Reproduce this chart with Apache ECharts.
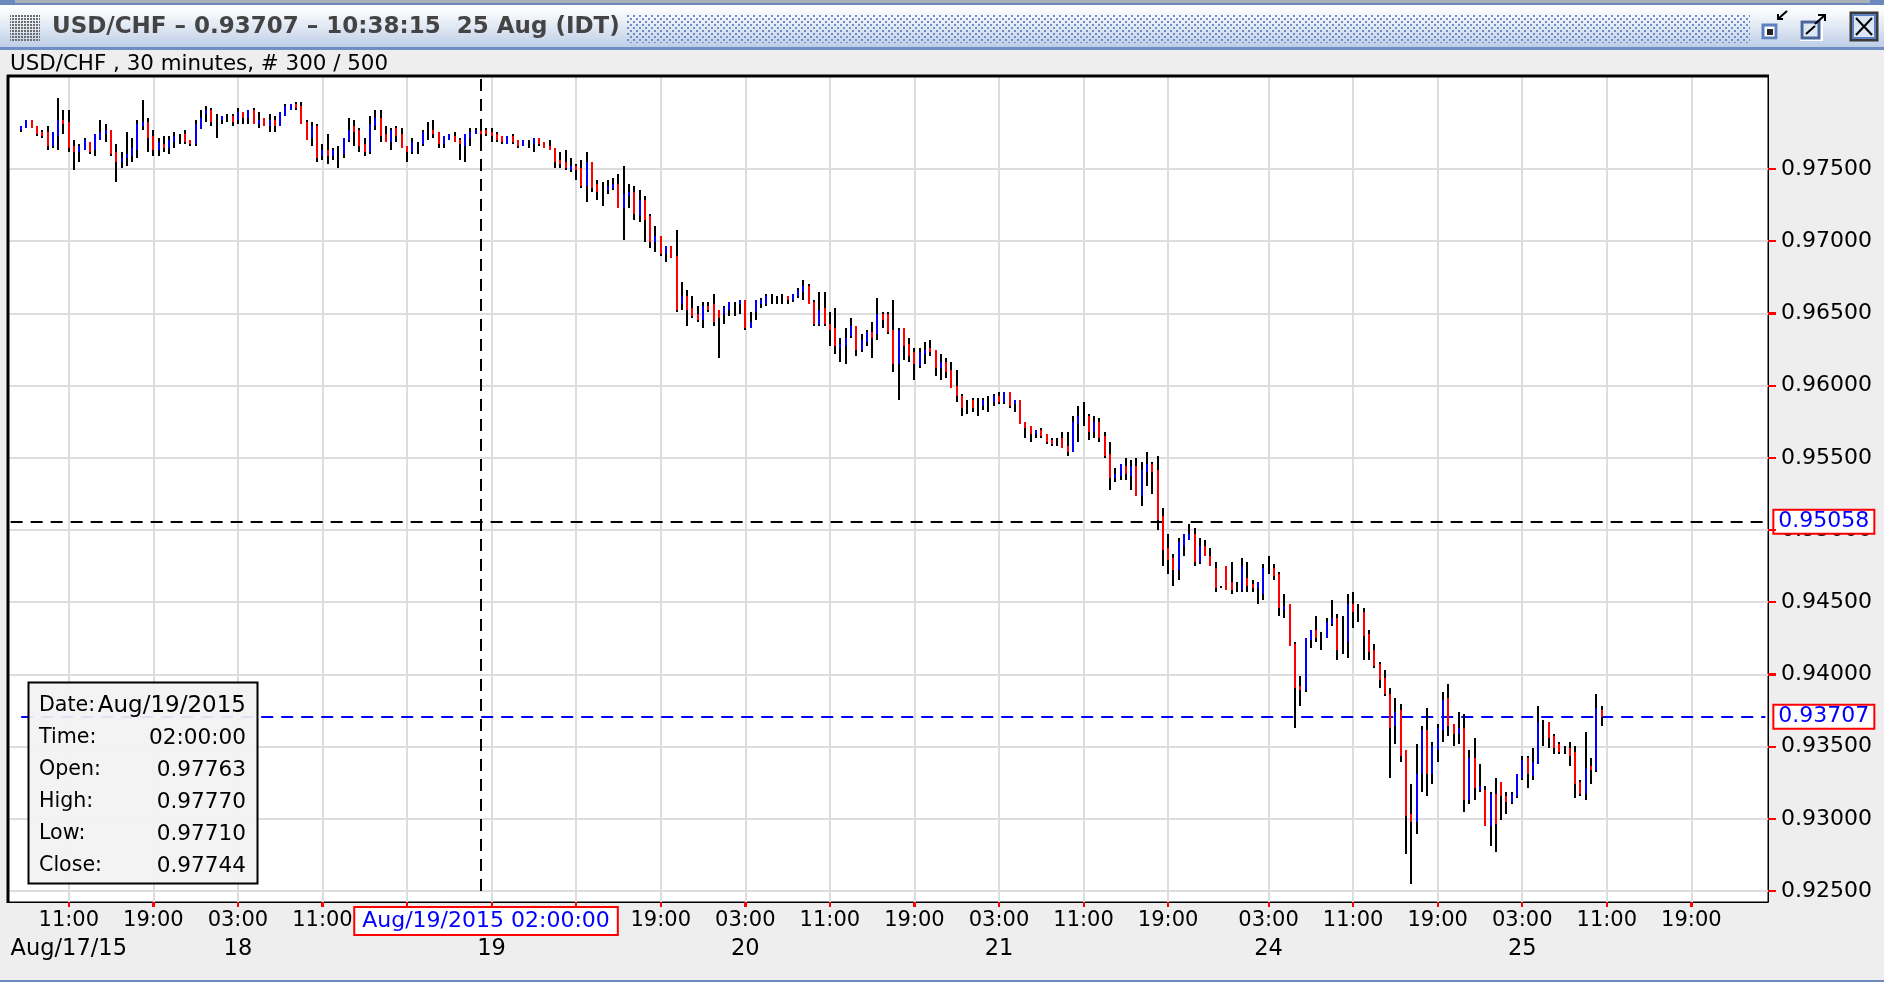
<!DOCTYPE html>
<html><head><meta charset="utf-8">
<style>html,body{margin:0;padding:0;background:#eee;overflow:hidden}#c{width:1884px;height:982px}</style>
<script src="https://cdn.jsdelivr.net/npm/echarts@6/dist/echarts.min.js"></script>
</head><body><div id="c"></div>
<script>
const opens=[
.97770,.97784,.97839,.97798,.97756,.97756,.97659,.97728,.97839,.97825,
.97659,.97618,.97632,.97687,.97632,.97701,.97742,.97770,.97618,.97548,
.97576,.97590,.97632,.97798,.97825,.97728,.97632,.97673,.97645,.97687,
.97701,.97742,.97701,.97673,.97777,.97881,.97909,.97790,.97839,.97853,
.97867,.97839,.97895,.97853,.97909,.97812,.97853,.97798,.97839,.97798,
.97867,.97909,.97950,.97936,.97825,.97715,.97798,.97590,.97632,.97590,
.97590,.97604,.97701,.97798,.97770,.97673,.97618,.97798,.97853,.97742,
.97687,.97784,.97742,.97659,.97618,.97645,.97673,.97770,.97770,.97756,
.97673,.97701,.97728,.97701,.97659,.97715,.97742,.97763,.97770,.97756,
.97742,.97728,.97673,.97728,.97701,.97659,.97673,.97673,.97715,.97687,
.97659,.97645,.97562,.97548,.97493,.97521,.97507,.97382,.97548,.97396,
.97327,.97355,.97368,.97396,.97230,.97313,.97341,.97175,.97285,.97175,
.96995,.97036,.96911,.96967,.96898,.96565,.96621,.96538,.96496,.96454,
.96551,.96565,.96524,.96496,.96524,.96524,.96565,.96593,.96399,.96510,
.96565,.96565,.96593,.96593,.96593,.96621,.96593,.96621,.96648,.96690,
.96579,.96427,.96538,.96427,.96399,.96261,.96274,.96344,.96413,.96247,
.96302,.96371,.96358,.96496,.96496,.96385,.96150,.96399,.96288,.96233,
.96136,.96219,.96261,.96247,.96122,.96164,.96108,.95997,.95928,.95852,
.95901,.95852,.95859,.95873,.95887,.95928,.95887,.95956,.95873,.95901,
.95748,.95721,.95665,.95693,.95665,.95624,.95610,.95637,.95582,.95541,
.95734,.95804,.95790,.95679,.95748,.95651,.95527,.95360,.95374,.95444,
.95374,.95444,.95236,.95402,.95457,.95416,.95097,.94876,.94807,.94723,
.94890,.94931,.94973,.94779,.94890,.94820,.94737,.94606,.94751,.94640,
.94606,.94585,.94668,.94627,.94599,.94557,.94758,.94737,.94696,.94447,
.94488,.94211,.93920,.93893,.94239,.94308,.94232,.94253,.94350,.94391,
.94273,.94225,.94488,.94426,.94433,.94280,.94170,.94073,.93976,.93865,
.93643,.93754,.93477,.93034,.92979,.93311,.93616,.93311,.93477,.93616,
.93837,.93657,.93588,.93630,.93131,.93422,.93200,.93200,.92951,.93173,
.93256,.93159,.93117,.93159,.93283,.93422,.93297,.93380,.93595,.93671,
.93574,.93519,.93477,.93491,.93463,.93256,.93173,.93366,.93339,.93754];
const highs=[
.97798,.97839,.97839,.97798,.97770,.97798,.97756,.97992,.97909,.97909,
.97701,.97673,.97715,.97687,.97742,.97839,.97812,.97770,.97673,.97618,
.97756,.97715,.97839,.97978,.97853,.97770,.97715,.97728,.97728,.97756,
.97742,.97770,.97701,.97839,.97909,.97936,.97922,.97881,.97867,.97881,
.97881,.97922,.97895,.97909,.97922,.97895,.97853,.97881,.97867,.97895,
.97950,.97950,.97964,.97964,.97839,.97825,.97812,.97673,.97742,.97645,
.97659,.97715,.97853,.97839,.97784,.97715,.97867,.97909,.97909,.97798,
.97784,.97798,.97784,.97659,.97715,.97687,.97770,.97825,.97839,.97756,
.97728,.97742,.97756,.97715,.97742,.97784,.97784,.97770,.97784,.97784,
.97756,.97728,.97728,.97742,.97701,.97701,.97701,.97715,.97715,.97687,
.97701,.97645,.97618,.97632,.97576,.97535,.97562,.97618,.97548,.97424,
.97410,.97424,.97438,.97465,.97521,.97396,.97382,.97355,.97313,.97188,
.97105,.97036,.96967,.96967,.97078,.96718,.96662,.96621,.96551,.96579,
.96579,.96634,.96524,.96551,.96579,.96579,.96593,.96593,.96510,.96593,
.96607,.96634,.96634,.96621,.96634,.96621,.96634,.96676,.96731,.96704,
.96593,.96648,.96648,.96510,.96538,.96330,.96399,.96468,.96413,.96358,
.96385,.96441,.96607,.96510,.96510,.96593,.96399,.96399,.96330,.96261,
.96261,.96302,.96316,.96247,.96219,.96191,.96164,.96108,.95942,.95901,
.95914,.95914,.95914,.95928,.95942,.95956,.95956,.95956,.95901,.95901,
.95748,.95721,.95693,.95707,.95665,.95637,.95637,.95679,.95679,.95790,
.95859,.95887,.95804,.95790,.95776,.95679,.95610,.95430,.95457,.95499,
.95485,.95499,.95471,.95541,.95471,.95513,.95153,.94973,.94834,.94945,
.94973,.95042,.95014,.94945,.94931,.94876,.94779,.94613,.94751,.94779,
.94640,.94807,.94779,.94654,.94640,.94765,.94820,.94765,.94710,.94557,
.94488,.94225,.93990,.94253,.94308,.94405,.94294,.94391,.94516,.94419,
.94405,.94557,.94571,.94488,.94460,.94308,.94211,.94086,.94031,.93906,
.93837,.93796,.93477,.93242,.93519,.93643,.93768,.93533,.93657,.93879,
.93934,.93657,.93740,.93726,.93477,.93560,.93380,.93228,.93186,.93283,
.93256,.93186,.93186,.93311,.93436,.93436,.93491,.93782,.93685,.93671,
.93588,.93533,.93505,.93533,.93505,.93269,.93602,.93422,.93865,.93782];
const lows=[
.97756,.97784,.97784,.97728,.97715,.97632,.97645,.97632,.97742,.97618,
.97493,.97548,.97632,.97604,.97590,.97701,.97687,.97590,.97410,.97507,
.97521,.97548,.97576,.97770,.97618,.97590,.97590,.97618,.97604,.97645,
.97673,.97673,.97659,.97659,.97777,.97825,.97798,.97715,.97812,.97825,
.97798,.97812,.97812,.97812,.97812,.97784,.97798,.97756,.97756,.97798,
.97867,.97909,.97909,.97812,.97701,.97659,.97548,.97562,.97535,.97562,
.97507,.97576,.97687,.97659,.97618,.97590,.97604,.97770,.97687,.97687,
.97632,.97687,.97645,.97548,.97604,.97604,.97659,.97701,.97715,.97645,
.97645,.97701,.97687,.97562,.97548,.97659,.97742,.97710,.97728,.97687,
.97687,.97673,.97673,.97673,.97645,.97659,.97645,.97618,.97659,.97645,
.97632,.97507,.97507,.97493,.97479,.97424,.97368,.97272,.97341,.97285,
.97244,.97327,.97355,.97230,.97008,.97230,.97147,.97133,.96995,.96953,
.96925,.96898,.96856,.96884,.96510,.96524,.96413,.96468,.96441,.96399,
.96510,.96413,.96191,.96427,.96482,.96482,.96496,.96385,.96399,.96454,
.96538,.96551,.96565,.96565,.96565,.96565,.96579,.96607,.96593,.96565,
.96413,.96413,.96413,.96274,.96219,.96164,.96150,.96330,.96205,.96233,
.96274,.96191,.96316,.96399,.96358,.96094,.95901,.96178,.96164,.96039,
.96122,.96150,.96205,.96067,.96039,.96053,.95984,.95887,.95790,.95804,
.95817,.95790,.95831,.95817,.95859,.95873,.95873,.95845,.95817,.95734,
.95637,.95610,.95637,.95637,.95596,.95582,.95582,.95568,.95513,.95541,
.95610,.95721,.95624,.95637,.95610,.95499,.95277,.95333,.95347,.95347,
.95277,.95236,.95167,.95305,.95250,.95000,.94751,.94696,.94613,.94654,
.94820,.94931,.94751,.94765,.94820,.94751,.94571,.94599,.94585,.94557,
.94571,.94571,.94571,.94571,.94488,.94516,.94696,.94654,.94405,.94391,
.94197,.93630,.93782,.93879,.94183,.94225,.94170,.94253,.94336,.94100,
.94142,.94114,.94322,.94363,.94100,.94100,.94045,.93906,.93851,.93283,
.93519,.93394,.92757,.92549,.92896,.93186,.93159,.93242,.93394,.93533,
.93574,.93505,.93519,.93048,.93103,.93131,.93186,.92951,.92812,.92771,
.92992,.93034,.93103,.93145,.93269,.93214,.93269,.93380,.93505,.93491,
.93449,.93449,.93449,.93366,.93145,.93159,.93131,.93242,.93325,.93643];
const closes=[
.97798,.97839,.97784,.97742,.97728,.97659,.97756,.97839,.97812,.97645,
.97618,.97659,.97701,.97618,.97742,.97756,.97770,.97604,.97548,.97576,
.97604,.97645,.97812,.97825,.97715,.97632,.97687,.97645,.97701,.97728,
.97701,.97687,.97673,.97812,.97853,.97909,.97825,.97790,.97867,.97853,
.97825,.97895,.97853,.97909,.97812,.97839,.97798,.97839,.97798,.97895,
.97936,.97950,.97922,.97812,.97701,.97798,.97576,.97632,.97590,.97632,
.97590,.97715,.97770,.97756,.97659,.97618,.97812,.97853,.97728,.97687,
.97770,.97728,.97645,.97618,.97687,.97645,.97756,.97770,.97742,.97673,
.97728,.97742,.97687,.97673,.97742,.97756,.97770,.97744,.97742,.97728,
.97701,.97687,.97728,.97687,.97659,.97701,.97673,.97715,.97673,.97645,
.97632,.97548,.97535,.97507,.97521,.97493,.97382,.97548,.97368,.97341,
.97327,.97382,.97396,.97230,.97327,.97341,.97188,.97285,.97147,.96995,
.97036,.96911,.96967,.96884,.96524,.96621,.96524,.96482,.96454,.96551,
.96524,.96441,.96468,.96538,.96579,.96524,.96593,.96399,.96441,.96593,
.96593,.96621,.96593,.96593,.96593,.96593,.96634,.96662,.96690,.96565,
.96427,.96524,.96427,.96385,.96274,.96288,.96330,.96413,.96247,.96316,
.96371,.96330,.96496,.96454,.96371,.96150,.96385,.96274,.96205,.96150,
.96233,.96247,.96233,.96122,.96164,.96094,.95984,.95928,.95845,.95852,
.95845,.95852,.95901,.95873,.95928,.95887,.95956,.95859,.95901,.95734,
.95707,.95665,.95693,.95651,.95610,.95596,.95610,.95568,.95541,.95748,
.95790,.95804,.95679,.95748,.95637,.95513,.95360,.95388,.95457,.95388,
.95444,.95236,.95416,.95457,.95402,.95070,.94862,.94793,.94723,.94917,
.94973,.94973,.94779,.94890,.94820,.94751,.94599,.94606,.94585,.94585,
.94606,.94751,.94613,.94599,.94640,.94737,.94758,.94682,.94460,.94474,
.94197,.93906,.93893,.94253,.94308,.94253,.94232,.94363,.94391,.94170,
.94273,.94488,.94433,.94426,.94266,.94156,.94059,.93962,.93865,.93630,
.93740,.93436,.93020,.92979,.93311,.93616,.93311,.93505,.93630,.93823,
.93643,.93588,.93630,.93131,.93422,.93214,.93228,.92951,.93173,.92965,
.93159,.93117,.93173,.93311,.93408,.93311,.93394,.93671,.93595,.93560,
.93491,.93463,.93477,.93436,.93242,.93173,.93353,.93339,.93768,.93707];

const yTicks=[0.925,0.93,0.935,0.94,0.945,0.95,0.955,0.96,0.965,0.97,0.975];
const yMin=0.92424, yMax=0.98144;
const leadSlots=2, totalSlots=333;           // empty bar slots before the first bar / whole axis
const tickBars=[9,25,41,57,73,89,105,121,137,153,169,185,201,217,236,252,268,284,300,316];
const tickHours=['11:00','19:00','03:00','11:00','19:00','03:00','11:00','19:00','03:00','11:00','19:00','03:00','11:00','19:00','03:00','11:00','19:00','03:00','11:00','19:00'];
const dateBars=[9,41,89,137,185,236,284];
const dateLabels=['Aug/17/15','18','19','20','21','24','25'];

const windowTitle='USD/CHF \u2013 0.93707 \u2013 10:38:15  25 Aug (IDT)';
const subTitle='USD/CHF , 30 minutes, # 300 / 500';
const crossBar=87, crossPrice=0.95058, crossTop=0.98123, crossBottom=0.925;
const crossTimeLabel='Aug/19/2015 02:00:00';
const lastPrice=0.93707;
const infoRows=[['Date:','Aug/19/2015'],['Time:','02:00:00'],['Open:','0.97763'],['High:','0.97770'],['Low:','0.97710'],['Close:','0.97744']];

const FONT='"DejaVu Sans"';
const slots=[];for(let i=0;i<totalSlots;i++)slots.push(String(i-leadSlots));
const hourMap={},dateMap={};
tickBars.forEach((b,i)=>hourMap[String(b)]=tickHours[i]);
dateBars.forEach((b,i)=>dateMap[String(b)]=dateLabels[i]);
const isTick=(i,v)=>hourMap[v]!==undefined;
const isDate=(i,v)=>dateMap[v]!==undefined;
const barData=opens.map((o,i)=>[i+leadSlots,o,highs[i],lows[i],closes[i]]);

function makePattern(size,color,dots){const c=document.createElement('canvas');c.width=c.height=size;const x=c.getContext('2d');x.fillStyle=color;dots.forEach(d=>x.fillRect(d[0],d[1],d[2],d[2]));return c;}
const rect=(x,y,w,h,fill,stroke,lw,z)=>({type:'rect',silent:true,z:z||1,shape:{x,y,width:w,height:h},style:{fill:fill||'transparent',stroke:stroke||null,lineWidth:lw||0}});
const seg=(x1,y1,x2,y2,stroke,lw,z)=>({type:'line',silent:true,z:z||2,shape:{x1,y1,x2,y2},style:{stroke,lineWidth:lw||1}});
const poly=(pts,stroke,lw)=>({type:'polyline',silent:true,z:2,shape:{points:pts},style:{stroke,lineWidth:lw,fill:null}});
const txt=(x,y,t,size,color,align,weight,z)=>({type:'text',silent:true,z:z||2,style:{x,y,text:t,fill:color,font:(weight||'normal')+' '+size+'px '+FONT,textAlign:align||'left',textVerticalAlign:'middle'}});

const g=[];
// window chrome
g.push(rect(0,4,1884,44,{type:'linear',x:0,y:0,x2:0,y2:1,colorStops:[{offset:0,color:'#ffffff'},{offset:.25,color:'#f4f7fb'},{offset:1,color:'#bccde6'}]}));
g.push(rect(0,0,1884,5,'#6a8abf'));
g.push(rect(15,0,1855,3,'#a9b1ba'));
g.push(rect(0,47,1884,3,'#6f8fc4'));
g.push(rect(0,980,1884,2,'#6a8abf'));
g.push(rect(10,14,30,27,{image:makePattern(3,'#6d6d6d',[[0,0,2]]),repeat:'repeat'}));
g.push(rect(627,14,1123,29,{image:makePattern(6,'#6e8dc8',[[0,0,2],[3,3,2]]),repeat:'repeat'}));
g.push(txt(52,27,windowTitle,23,'#444444','left','bold'));
g.push(txt(10,64,subTitle,21.4,'#000000'));
// window buttons
g.push(rect(1762,24,16,16,'#ffffff'));g.push(rect(1763,25,13,13,'#ffffff','#5c7fbf',3));g.push(rect(1767,29,6,6,'#222222'));
g.push(seg(1787,11,1778,19,'#000',2));g.push(poly([[1778,14],[1778,19],[1783,19]],'#000',2));
g.push(rect(1800,20,23,21,'#ffffff'));g.push(rect(1802,22,17,16,'#dfe7f4','#4a659b',3));g.push(seg(1806,34,1815,26,'#000',2));
g.push(seg(1815,24,1825,15,'#000',2));g.push(poly([[1818,15],[1825,15],[1825,21]],'#000',2));
g.push(rect(1851,13,26,27,'#dbe5f3','#3a3a3a',3));g.push(rect(1853,15,22,23,'#dbe5f3','#5c7fbf',2));
g.push(seg(1856,18,1872,35,'#000',2));g.push(seg(1872,18,1856,35,'#000',2));
// thick left / top frame of the plot
g.push(seg(8,75,8,903,'#000',3,30));g.push(seg(7,76,1769,76,'#000',3,30));
// data-window box
g.push(rect(28.5,682.5,229,201,'rgba(241,242,241,0.93)','#000',2,60));
infoRows.forEach((r,i)=>{
  const y=706+i*32;
  g.push(txt(39,y,r[0],20.6,'#000','left','normal',61));
  g.push(txt(246,y,r[1],i===0?23:21.6,'#000','right','normal',61));
});

const boxLabel=(text,position,extra)=>Object.assign({show:true,position,formatter:text,color:'#0000ff',fontFamily:FONT,fontSize:22,backgroundColor:'#fff',borderColor:'#ff0000',borderWidth:2,padding:[0,4,0,4]},extra||{});
const dash={type:[12,8],width:2};

const option={
  animation:false,
  backgroundColor:'#eeeeee',
  grid:{show:true,left:8,right:116,top:76,bottom:80,backgroundColor:'#fff',borderColor:'#000',borderWidth:1},
  xAxis:[
   {type:'category',data:slots,boundaryGap:true,
    axisLine:{show:true,lineStyle:{color:'#000',width:1}},
    axisTick:{show:true,length:5,alignWithLabel:true,interval:isTick,lineStyle:{color:'#ff0000',width:2}},
    splitLine:{show:true,alignWithLabel:true,interval:isTick,lineStyle:{color:'#dddddd',width:2}},
    axisLabel:{interval:isTick,margin:8,fontFamily:FONT,fontSize:21,color:'#000',hideOverlap:false,formatter:v=>hourMap[v]||''}},
   {type:'category',data:slots,boundaryGap:true,position:'bottom',offset:28,
    axisLine:{show:false},axisTick:{show:false},splitLine:{show:false},
    axisLabel:{interval:isDate,margin:8,fontFamily:FONT,fontSize:22.5,color:'#000',hideOverlap:false,formatter:v=>dateMap[v]||''}}
  ],
  yAxis:{type:'value',position:'right',min:yMin,max:yMax,
    axisLine:{show:true,lineStyle:{color:'#000',width:1}},
    axisTick:{show:true,length:8,customValues:yTicks,lineStyle:{color:'#ff0000',width:2}},
    splitLine:{show:true,customValues:yTicks,lineStyle:{color:'#dddddd',width:2}},
    axisLabel:{customValues:yTicks,margin:13,fontFamily:FONT,fontSize:22,color:'#000',formatter:v=>v.toFixed(5)}},
  graphic:{elements:g},
  series:[
   {type:'custom',name:'USD/CHF',xAxisIndex:0,z:5,clip:true,
    data:barData,encode:{x:0,y:[1,2,3,4]},
    renderItem:(p,api)=>{
      const s=api.value(0),o=api.value(1),h=api.value(2),l=api.value(3),c=api.value(4);
      const x=Math.round(api.coord([s,o])[0])-1;
      const yH=Math.round(api.coord([s,h])[1]),yL=Math.round(api.coord([s,l])[1]);
      const yO=Math.round(api.coord([s,o])[1]),yC=Math.round(api.coord([s,c])[1]);
      const kids=[{type:'rect',shape:{x,y:yH,width:2,height:yL-yH},style:{fill:'#000'}}];
      if(o!==c){kids.push({type:'rect',shape:{x,y:Math.min(yO,yC),width:2,height:Math.abs(yO-yC)},style:{fill:c>o?'#0000ff':'#ff0000'}});}
      return {type:'group',children:kids};
    }},
   {type:'line',name:'crosshair',xAxisIndex:0,z:20,data:[],silent:true,symbol:'none',
    markLine:{silent:true,symbol:'none',animation:false,precision:5,
      data:[
        [{coord:[slots[crossBar+leadSlots],crossTop],lineStyle:Object.assign({color:'#000'},dash),
          label:boxLabel(crossTimeLabel,'end',{distance:17,offset:[5,0],padding:[2,7,2,7]})},
         {coord:[slots[crossBar+leadSlots],crossBottom]}],
        [{coord:[slots[0],crossPrice],lineStyle:Object.assign({color:'#000'},dash),label:boxLabel(crossPrice.toFixed(5),'end',{distance:9})},
         {coord:[slots[totalSlots-1],crossPrice]}],
        [{coord:[slots[leadSlots],lastPrice],lineStyle:Object.assign({color:'#0000ff'},dash),label:boxLabel(lastPrice.toFixed(5),'end',{distance:9})},
         {coord:[slots[totalSlots-1],lastPrice]}]
      ]}}
  ]
};
const chart=echarts.init(document.getElementById('c'));
chart.setOption(option);
// red tick marks taken from the chart's own scales, drawn above the frame
const tickEls=[];
yTicks.forEach(v=>{const y=Math.round(chart.convertToPixel({yAxisIndex:0},v));tickEls.push(seg(1768,y,1776,y,'#ff0000',2,31));});
tickBars.forEach(b=>{const x=Math.round(chart.convertToPixel({xAxisIndex:0},slots[b+leadSlots]));tickEls.push(seg(x,902,x,907,'#ff0000',2,31));});
chart.setOption({graphic:{elements:g.concat(tickEls)}});
</script></body></html>
